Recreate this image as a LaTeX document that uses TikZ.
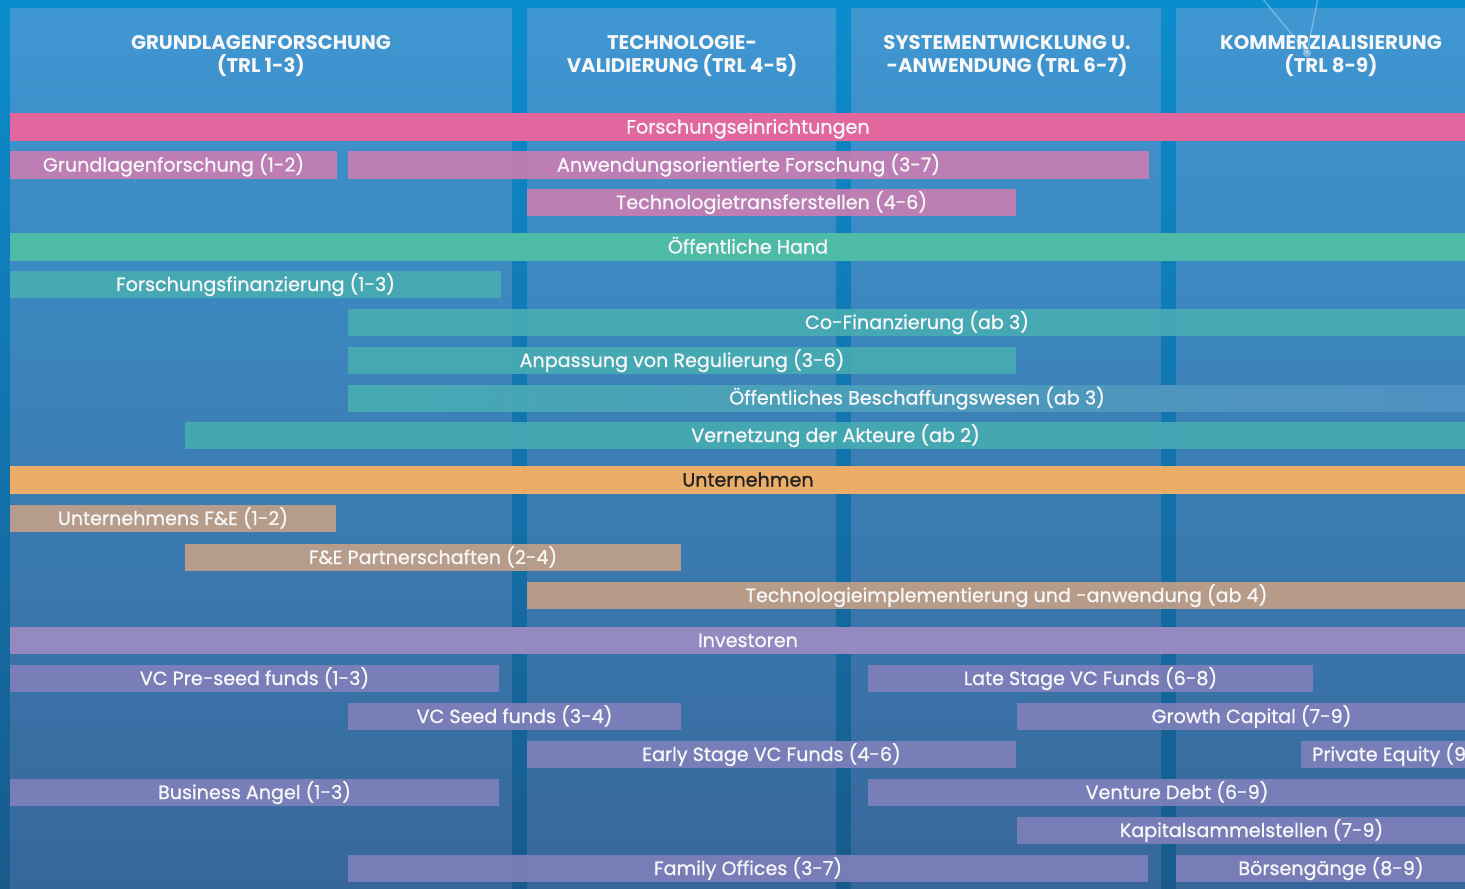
\documentclass[tikz,border=0pt]{standalone}
\usepackage{fontspec}
\setmainfont{Poppins}
\newfontfamily\barfont{Poppins}[FakeBold=0.9]
\definecolor{bgtop}{HTML}{0B8DCD}
\definecolor{bgbot}{HTML}{185A8C}
\definecolor{pantop}{HTML}{3F97D2}
\definecolor{panbot}{HTML}{37679A}
\definecolor{pinkm}{HTML}{E2679F}
\definecolor{mauve}{HTML}{CA7DB2}
\definecolor{tealm}{HTML}{4EBAA8}
\definecolor{teals}{HTML}{47ACB2}
\definecolor{tealfade}{HTML}{5390C4}
\definecolor{orangem}{HTML}{ECAD68}
\definecolor{tanm}{HTML}{C4A086}
\definecolor{lavm}{HTML}{9489C0}
\definecolor{lavs}{HTML}{8080BB}
\definecolor{txtw}{HTML}{F7F7F7}
\definecolor{txtd}{HTML}{222222}
\tikzset{
  bartext/.style={text=txtw, font=\barfont\fontsize{19.2}{22}\selectfont, inner sep=0pt, anchor=base},
  headtext/.style={text=txtw, font=\fontsize{19.8}{23}\selectfont\bfseries, align=center, inner sep=0pt},
  mainbar/.style={fill=#1},
  subbar/.style={fill=#1, fill opacity=0.9},
}
\newcommand\mybar[7]{%
  \fill[#6] (#2,#3) rectangle (#4,#5);
  \node[bartext] (#1) at ({(#2+#4)/2},{(#3+#5)/2+6.5}) {#7};}
\begin{document}
\begin{tikzpicture}[x=1bp,y=-1bp]
\useasboundingbox (0,0) rectangle (1465,888);
\clip (0,0) rectangle (1465,888);
% background
\shade[top color=bgtop, bottom color=bgbot] (0,0) rectangle (1500,888);
% column panels
\foreach \a/\b in {10/512, 527/836, 851/1161, 1176/1500}{
  \shade[top color=pantop, bottom color=panbot] (\a,8) rectangle (\b,888+0);
}
% decoration top right
\coordinate (hub) at (1307,53);
\coordinate (d1) at (1262,-2);
\coordinate (d2) at (1318,-2);
\draw[white, opacity=0.35, line width=1.2bp] (d1) -- (hub) -- (d2);
\fill[white, opacity=0.35] (hub) circle (4bp);
% headers
\node[headtext] (h1) at (261,56) {GRUNDLAGENFORSCHUNG\\(TRL 1-3)};
\node[headtext] (h2) at (682,56) {TECHNOLOGIE-\\VALIDIERUNG (TRL 4-5)};
\node[headtext] (h3) at (1007,56) {SYSTEMENTWICKLUNG U.\\-ANWENDUNG (TRL 6-7)};
\node[headtext] (h4) at (1331,56) {KOMMERZIALISIERUNG\\(TRL 8-9)};
% Forschungseinrichtungen
\mybar{fe}{10}{113}{1486}{141}{mainbar=pinkm}{Forschungseinrichtungen}
\mybar{gf}{10}{151}{337}{179}{subbar=mauve}{Grundlagenforschung (1-2)}
\mybar{af}{348}{151}{1149}{179}{subbar=mauve}{Anwendungsorientierte Forschung (3-7)}
\mybar{tt}{527}{189}{1016}{216}{subbar=mauve}{Technologietransferstellen (4-6)}
% Oeffentliche Hand
\mybar{oh}{10}{233}{1486}{261}{mainbar=tealm}{Öffentliche Hand}
\mybar{ff}{10}{271}{501}{298}{subbar=teals}{Forschungsfinanzierung (1-3)}
\mybar{cf}{348}{309}{1486}{336}{subbar=teals}{Co-Finanzierung (ab 3)}
\mybar{ar}{348}{347}{1016}{374}{subbar=teals}{Anpassung von Regulierung (3-6)}
\shade[left color=teals, right color=tealfade, opacity=0.95] (348,385) rectangle (1486,411);
\node[bartext] (bw) at (917,404.5) {Öffentliches Beschaffungswesen (ab 3)};
\mybar{va}{185}{422}{1486}{449}{subbar=teals}{Vernetzung der Akteure (ab 2)}
% Unternehmen
\fill[orangem] (10,466) rectangle (1486,494);
\node[bartext, text=txtd] (un) at (748,486.5) {Unternehmen};
\mybar{ufe}{10}{505}{336}{532}{subbar=tanm}{Unternehmens F\&E (1-2)}
\mybar{fep}{185}{544}{681}{571}{subbar=tanm}{F\&E Partnerschaften (2-4)}
\mybar{ti}{527}{582}{1486}{609}{subbar=tanm}{Technologieimplementierung und -anwendung (ab 4)}
% Investoren
\mybar{inv}{10}{627}{1486}{654}{mainbar=lavm}{Investoren}
\mybar{vcp}{10}{665}{499}{692}{subbar=lavs}{VC Pre-seed funds (1-3)}
\mybar{ls}{868}{665}{1313}{692}{subbar=lavs}{Late Stage VC Funds (6-8)}
\mybar{vcs}{348}{703}{681}{730}{subbar=lavs}{VC Seed funds (3-4)}
\mybar{gc}{1017}{703}{1486}{730}{subbar=lavs}{Growth Capital (7-9)}
\mybar{es}{527}{741}{1016}{768}{subbar=lavs}{Early Stage VC Funds (4-6)}
\mybar{pe}{1301}{741}{1486}{768}{subbar=lavs}{Private Equity (9)}
\mybar{ba}{10}{779}{499}{806}{subbar=lavs}{Business Angel (1-3)}
\mybar{vd}{868}{779}{1486}{806}{subbar=lavs}{Venture Debt (6-9)}
\mybar{ks}{1017}{817}{1486}{844}{subbar=lavs}{Kapitalsammelstellen (7-9)}
\mybar{fo}{348}{855}{1148}{882}{subbar=lavs}{Family Offices (3-7)}
\mybar{bg}{1176}{855}{1486}{882}{subbar=lavs}{Börsengänge (8-9)}
\end{tikzpicture}
\end{document}
